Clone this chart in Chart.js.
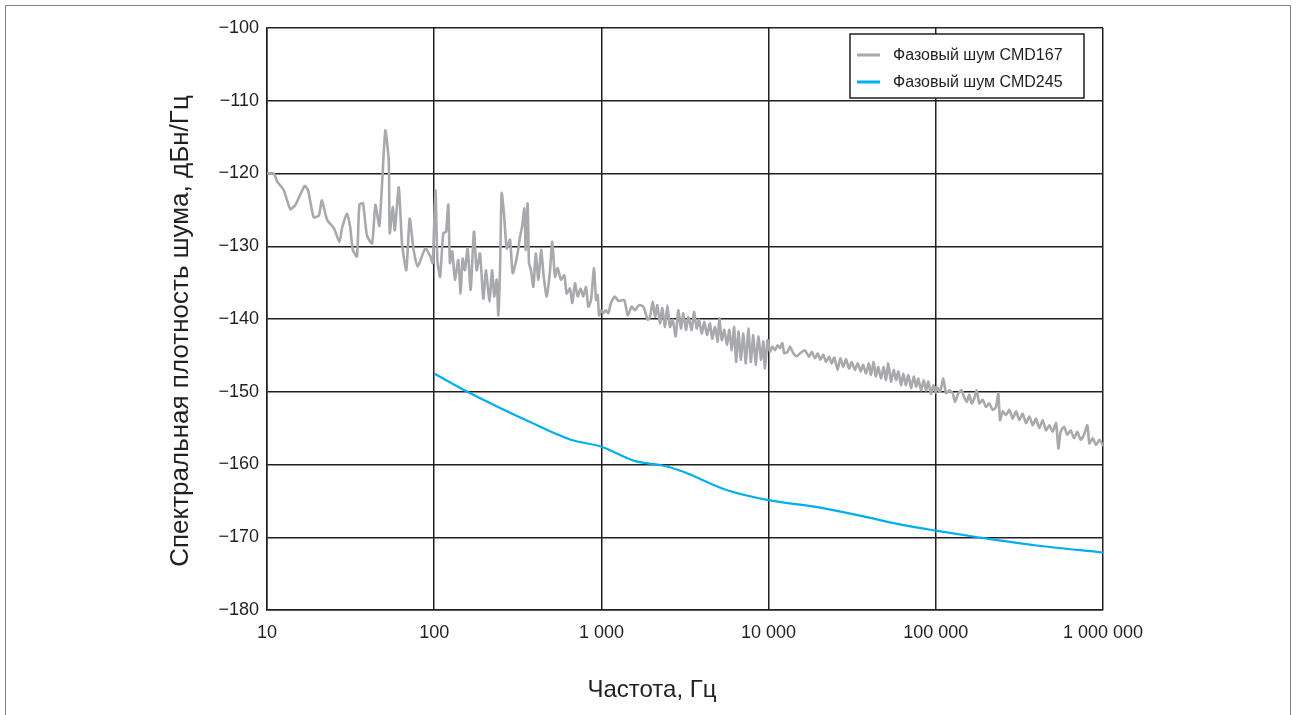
<!DOCTYPE html>
<html lang="ru">
<head>
<meta charset="utf-8">
<title>Фазовый шум CMD167 / CMD245</title>
<script src="https://cdn.jsdelivr.net/npm/chart.js@4.4.1/dist/chart.umd.min.js"></script>
<style>
  html, body { margin: 0; padding: 0; background: #fff; overflow: hidden; }
  #frame {
    position: absolute; left: 5px; top: 5px; width: 1286px; height: 730px;
    border: 1.5px solid #808080; box-sizing: border-box;
  }
  #chart { position: absolute; left: 0; top: 0; }
</style>
</head>
<body>
<div id="frame"></div>
<canvas id="chart" width="1298" height="715"></canvas>
<script>
// ---- data ----
const xTicks = [10, 100, 1000, 10000, 100000, 1000000];
const xTickLabels = ['10', '100', '1 000', '10 000', '100 000', '1 000 000'];
const yTicks = [-180, -170, -160, -150, -140, -130, -120, -110, -100];
const xTitle = 'Частота, Гц';
const yTitle = 'Спектральная плотность шума, дБн/Гц';

// CMD167 phase noise, Hz
const grayFreq = [
  10, 11.0, 11.5, 12.6, 13.8, 14.8, 16.8, 17.6, 19.0, 20.4, 21.3, 22.9, 25.1, 27.1, 28.1,
  30.1, 31.5, 32.6, 34.5, 35.7, 37.5, 39.6, 42.5, 44.5, 47.0, 51.0, 53.5, 54.2, 56.5, 58.1,
  61.4, 64.2, 68.1, 71.3, 75.3, 79.6, 88.5, 94.8, 98,
  101.7, 104.5, 108.4, 113.3, 117.7, 121.4, 124.2, 128.2, 133.1, 139.3, 143.9, 147.9, 152.7,
  158.5, 165.2, 172.9, 179.5, 187.8, 196.6, 204.2, 213.8, 221.8, 228.7, 236.4, 241.8, 247.5,
  253.3, 261.4, 271.5, 284, 295, 314,
  326, 336, 346, 353, 362, 369, 379, 392, 405, 420, 436, 452, 471, 493, 508, 528, 548, 573,
  600, 620, 648, 670, 695, 721, 751, 779, 809, 835, 867, 903, 929, 950, 968, 995,
  1026, 1062, 1100, 1141, 1205, 1262, 1370, 1436, 1518, 1588, 1678, 1782, 1893, 1954, 2028,
  2094, 2160, 2240, 2312, 2400, 2478, 2572, 2669, 2781, 2881, 2990, 3088, 3206, 3309, 3467,
  3580, 3715, 3834, 3980, 4125, 4281, 4460, 4600, 4780, 4960, 5070, 5250, 5430, 5640, 5820,
  6020, 6220, 6390, 6600, 6810, 7060, 7300, 7570, 7820, 8100, 8370, 8680, 9010, 9300, 9510,
  9860, 10190, 10520, 10910, 11320, 11690, 12070, 12410, 13000, 13420, 14060, 14720, 15630,
  16510, 17450, 18110, 18960, 19680, 20390, 21250, 22050, 22980, 23850, 24710, 25880, 26830,
  27970, 29020, 30250, 31380, 32850, 34100, 35550, 36840, 38220, 39840, 40950, 42520, 43700,
  45300, 47000, 48780, 50360, 51980, 53940, 55970, 57810, 59670, 61940, 63930, 66100, 68500,
  71100, 73800, 76200, 78600, 81500, 84700, 87400, 90200, 93600, 96600, 99800,
  101000, 105900, 110900, 115100, 120500, 126200, 130300, 136400, 142900, 147500, 153100,
  158600, 164000, 170000, 175600, 182000, 190700, 199500, 208900, 219000, 229000, 236600,
  242100, 251300, 263000, 275400, 288500, 302100, 315900, 330900, 346200, 362500, 380000,
  397000, 416000, 436000, 456000, 478000, 500000, 524000, 541000, 558000, 585000, 612000,
  641000, 671000, 702000, 735000, 770000, 806000, 829000, 868000, 908000, 951000, 995000, 1000000
];
// CMD167 phase noise, dBc/Hz
const grayDb = [
  -120, -120.0, -121.1, -122.3, -124.9, -124.3, -121.7, -122.3, -126.0, -125.8, -123.7, -126.4, -127.5, -129.4, -127.5,
  -125.5, -127.5, -130.5, -131.4, -124.3, -124.1, -128.5, -129.6, -124.3, -127.2, -114.1, -118.4, -128.2, -124.6, -127.8,
  -121.9, -129.6, -133.3, -126.2, -130.5, -132.8, -130.3, -131.4, -132.3,
  -122.3, -131.9, -134.2, -128.2, -128.0, -124.3, -132.3, -130.7, -134.6, -131.9, -136.5, -131.7, -133.3,
  -130.3, -136.0, -128.0, -133.3, -131.0, -137.2, -133.3, -137.6, -133.3, -136.9, -134.6, -139.5, -133.3,
  -122.7, -125.5, -130.3, -129.1, -133.7, -131.2,
  -128.7, -127.2, -124.8, -130.5, -124.1, -132.3, -133.3, -135.6, -131.0, -134.6, -130.5, -134.2, -136.9, -133.3, -129.4, -134.2, -133.0, -134.6,
  -134.0, -136.5, -135.8, -137.8, -135.1, -136.9, -135.8, -136.9, -135.6, -138.3, -137.4, -133.0, -137.4, -136.7, -139.5, -138.8,
  -139.2, -138.8, -139.2, -137.8, -136.9, -137.5, -137.4, -139.5, -138.3, -138.8, -138.1, -138.3, -140.1, -139.7, -137.6,
  -139.7, -138.1, -140.6, -138.5, -141.1, -138.1, -141.1, -140.1, -142.4, -138.8, -141.3, -139.2, -141.5, -139.7, -141.5,
  -139.0, -141.3, -140.1, -142.0, -140.4, -142.2, -140.6, -142.7, -141.1, -143.1, -139.9, -142.9, -141.5, -143.6, -141.5,
  -144.3, -141.1, -145.9, -141.7, -145.6, -142.0, -146.1, -141.3, -145.9, -142.2, -146.3, -142.4, -145.6, -143.1, -146.8,
  -142.9, -144.5, -143.8, -144.3, -143.6, -144.0, -143.3, -144.7, -144.5, -143.8, -144.7, -145.1, -144.6,
  -144.3, -145.2, -144.5, -145.4, -144.7, -145.6, -144.9, -145.9, -145.2, -146.1, -145.3, -147.0, -145.4,
  -146.6, -145.5, -146.8, -145.9, -147.0, -146.1, -147.2, -146.3, -147.5, -146.1, -147.7, -145.9, -147.9,
  -146.6, -148.2, -146.6, -148.4, -146.1, -148.6, -147.0, -148.4, -147.2, -149.1, -147.5, -149.1, -147.7,
  -149.5, -147.9, -149.3, -148.2, -149.8, -148.4, -149.8, -148.6, -150.3, -149.1, -150.1,
  -149.3, -150.0, -148.2, -150.2, -149.8, -150.2, -151.4, -150.2, -149.8, -150.7, -151.4,
  -150.4, -151.6, -150.9, -149.8, -151.6, -151.1, -152.1, -151.6, -152.5, -152.1, -150.2,
  -153.9, -152.7, -153.2, -152.5, -153.7, -152.7, -153.9, -153.0, -154.3, -153.4, -154.6,
  -153.7, -155.0, -153.9, -155.3, -154.6, -155.5, -154.3, -157.8, -155.5, -154.8, -155.9,
  -155.3, -156.4, -155.5, -156.6, -155.9, -154.6, -157.1, -156.4, -157.3, -156.6, -157.3, -157.5
];

// CMD245 phase noise
const blueFreq = [100, 158, 369, 656, 1000, 1574, 2400, 3090, 5600, 10000, 18800, 34600, 63000, 100000, 178000, 390000, 1000000];
const blueDb = [-147.5, -150.0, -154.1, -156.6, -157.55, -159.5, -160.2, -161.0, -163.5, -164.9, -165.8, -167.0, -168.3, -169.1, -170.0, -171.1, -172.1];

const INK = '#231f20';
const FONT = "'Liberation Sans', Arial, sans-serif";

// boxed legend in the upper right corner of the plot, like the original figure
const boxLegend = {
  id: 'boxLegend',
  afterDraw(chart) {
    const {ctx, chartArea} = chart;
    const w = 234, h = 64;
    const x0 = chartArea.right - 19 - w;
    const y0 = chartArea.top + 6;
    ctx.save();
    ctx.fillStyle = '#fff';
    ctx.fillRect(x0, y0, w, h);
    ctx.strokeStyle = INK;
    ctx.lineWidth = 1.5;
    ctx.strokeRect(x0, y0, w, h);
    ctx.font = `16px ${FONT}`;
    ctx.textBaseline = 'middle';
    chart.data.datasets.forEach((ds, i) => {
      const y = y0 + 21 + i * 27;
      ctx.strokeStyle = ds.borderColor;
      ctx.lineWidth = 3;
      ctx.beginPath();
      ctx.moveTo(x0 + 7, y);
      ctx.lineTo(x0 + 30, y);
      ctx.stroke();
      ctx.fillStyle = INK;
      ctx.fillText(ds.label, x0 + 43, y + 1);
    });
    ctx.restore();
  }
};

// axis titles sit off-centre in the original (centred on the whole figure), so draw them here
const axisTitles = {
  id: 'axisTitles',
  afterDraw(chart) {
    const {ctx, chartArea} = chart;
    ctx.save();
    ctx.fillStyle = INK;
    ctx.textAlign = 'center';
    ctx.textBaseline = 'middle';
    ctx.font = `24px ${FONT}`;
    ctx.fillText(xTitle, chart.width / 2 + 3, chartArea.bottom + 80);
    ctx.translate(181, (chartArea.top + chartArea.bottom) / 2 + 12);
    ctx.rotate(-Math.PI / 2);
    ctx.font = `26px ${FONT}`;
    ctx.fillText(yTitle, 0, 0);
    ctx.restore();
  }
};

new Chart(document.getElementById('chart'), {
  type: 'line',
  data: {
    datasets: [
      {
        label: 'Фазовый шум CMD167',
        data: grayFreq.map((f, i) => ({x: f, y: grayDb[i]})),
        borderColor: '#a7a9ac',
        borderWidth: 2.6,
        pointRadius: 0,
        tension: 0.2,
      },
      {
        label: 'Фазовый шум CMD245',
        data: blueFreq.map((f, i) => ({x: f, y: blueDb[i]})),
        borderColor: '#00aeef',
        borderWidth: 2.2,
        pointRadius: 0,
        cubicInterpolationMode: 'monotone',
      },
    ],
  },
  options: {
    responsive: false,
    animation: false,
    layout: {padding: {left: 0, top: 28, right: 195, bottom: 0}},
    plugins: {legend: {display: false}, tooltip: {enabled: false}},
    scales: {
      x: {
        type: 'logarithmic',
        min: 10,
        max: 1000000,
        afterBuildTicks: s => { s.ticks = xTicks.map(v => ({value: v})); },
        afterFit: s => { s.height = 105; },
        ticks: {
          autoSkip: false,
          maxRotation: 0,
          padding: 12,
          color: INK,
          font: {family: FONT, size: 18},
          callback: v => xTickLabels[xTicks.indexOf(v)],
        },
        grid: {color: INK, lineWidth: 1.5, drawTicks: false},
        border: {color: INK, width: 1.5},
      },
      y: {
        min: -180,
        max: -100,
        afterBuildTicks: s => { s.ticks = yTicks.map(v => ({value: v})); },
        afterFit: s => { s.width = 267; },
        ticks: {
          padding: 8,
          color: INK,
          font: {family: FONT, size: 18},
          callback: v => '\u2212' + Math.abs(v),
        },
        grid: {color: INK, lineWidth: 1.5, drawTicks: false},
        border: {color: INK, width: 1.5},
      },
    },
  },
  plugins: [boxLegend, axisTitles],
});
</script>
</body>
</html>
